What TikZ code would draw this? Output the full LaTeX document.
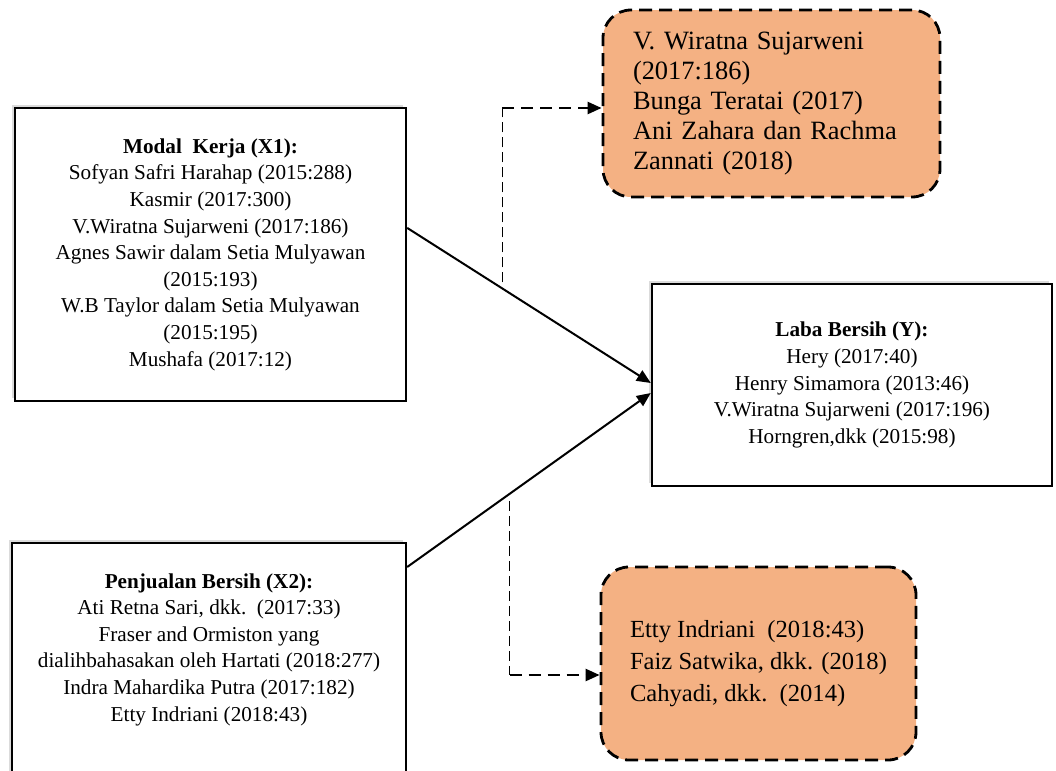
\documentclass[tikz,border=0pt]{standalone}
\usepackage{fontspec}
\setmainfont{Liberation Serif}
\usepackage{xcolor}
\usetikzlibrary{calc, positioning, arrows.meta, shadows}
\definecolor{oranyemuda}{HTML}{F4B183}

\begin{document}
\begin{tikzpicture}[x=0.5pt, y=-0.5pt, >={Triangle[length=7pt, width=6pt]},
    kotak/.style={draw, line width=1.2pt, fill=white, align=center, inner sep=0pt,
        font=\fontsize{10.6}{13.3}\selectfont,
        drop shadow={shadow xshift=-1.5pt, shadow yshift=1.5pt, fill=black!35, opacity=0.4}},
    teori/.style={draw, line width=1.4pt, dash pattern=on 6.5pt off 3.5pt,
        rounded corners=14pt, fill=oranyemuda, align=left, inner sep=0pt},
    panah/.style={->, line width=1pt},
    garisputus/.style={line width=0.6pt, dash pattern=on 5pt off 2.5pt},
    panahputus/.style={->, line width=1.2pt, dash pattern=on 6pt off 3.5pt}]

    \useasboundingbox (0,0) rectangle (1056,771);

    % =================================================================
    % 1. KOTAK VARIABEL (X1, X2, Y)
    % =================================================================
    \node[kotak, minimum width=195.5pt, minimum height=146.5pt] (modal) at (210.5,254.5)
        {\textbf{Modal\ \ Kerja (X1):}\\
         Sofyan Safri Harahap (2015:288)\\
         Kasmir (2017:300)\\
         V.Wiratna Sujarweni (2017:186)\\
         Agnes Sawir dalam Setia Mulyawan\\
         (2015:193)\\
         W.B Taylor dalam Setia Mulyawan\\
         (2015:195)\\
         Mushafa (2017:12)};

    % Kotak X2 terpotong di tepi bawah
    \node[kotak, minimum width=197pt, minimum height=125pt, anchor=north] (jual) at (209,542)
        {\textbf{Penjualan Bersih (X2):}\\
         Ati Retna Sari, dkk.\ \ (2017:33)\\
         Fraser and Ormiston yang\\
         dialihbahasakan oleh Hartati (2018:277)\\
         Indra Mahardika Putra (2017:182)\\
         Etty Indriani (2018:43)\\[7.7pt]\mbox{}};

    \node[kotak, minimum width=200pt, minimum height=101pt] (laba) at (852,385)
        {\textbf{Laba Bersih (Y):}\\
         Hery (2017:40)\\
         Henry Simamora (2013:46)\\
         V.Wiratna Sujarweni (2017:196)\\
         Horngren,dkk (2015:98)};

    % =================================================================
    % 2. KOTAK PENELITIAN TERDAHULU (ORANYE)
    % =================================================================
    \node[teori, minimum width=168.5pt, minimum height=93.5pt, text width=138.5pt,
        font=\fontsize{13.2}{15}\selectfont] (teori1) at (771.5,103.5)
        {V. Wiratna Sujarweni\\
         (2017:186)\\
         Bunga Teratai (2017)\\
         Ani Zahara dan Rachma\\
         Zannati (2018)};

    \node[teori, minimum width=157.5pt, minimum height=96.5pt,
        font=\fontsize{12.3}{16}\selectfont] (teori2) at (758.5,663.5)
        {Etty Indriani\ \ (2018:43)\\
         Faiz Satwika, dkk. (2018)\\
         Cahyadi, dkk.\ \ (2014)};

    % =================================================================
    % 3. PANAH PENGARUH X1, X2 KE Y
    % =================================================================
    \coordinate (m1) at ($(modal.north east)!0.41!(modal.south east)$);
    \coordinate (j1) at ($(jual.north east)+(0,25)$);
    \coordinate (l1) at ($(laba.west)+(0,-2)$);
    \coordinate (l2) at ($(laba.west)+(0,8)$);
    \draw[panah] (m1) -- (l1);
    \draw[panah] (j1) -- (l2);

    % =================================================================
    % 4. GARIS PUTUS-PUTUS KE KOTAK ORANYE
    % =================================================================
    \coordinate (c1) at ($(m1)!0.39!(l1)+(0,-6)$);
    \coordinate (t1) at ($(teori1.west)+(0,4.5)$);
    \draw[garisputus] (c1) -- (c1 |- t1);
    \draw[panahputus] (c1 |- t1) -- (t1);

    \coordinate (c2) at ($(j1)!0.42!(l2)+(0,7)$);
    \coordinate (t2) at ($(teori2.west)+(0,11.5)$);
    \draw[garisputus] (c2) -- (c2 |- t2);
    \draw[panahputus] (c2 |- t2) -- (t2);

\end{tikzpicture}
\end{document}
